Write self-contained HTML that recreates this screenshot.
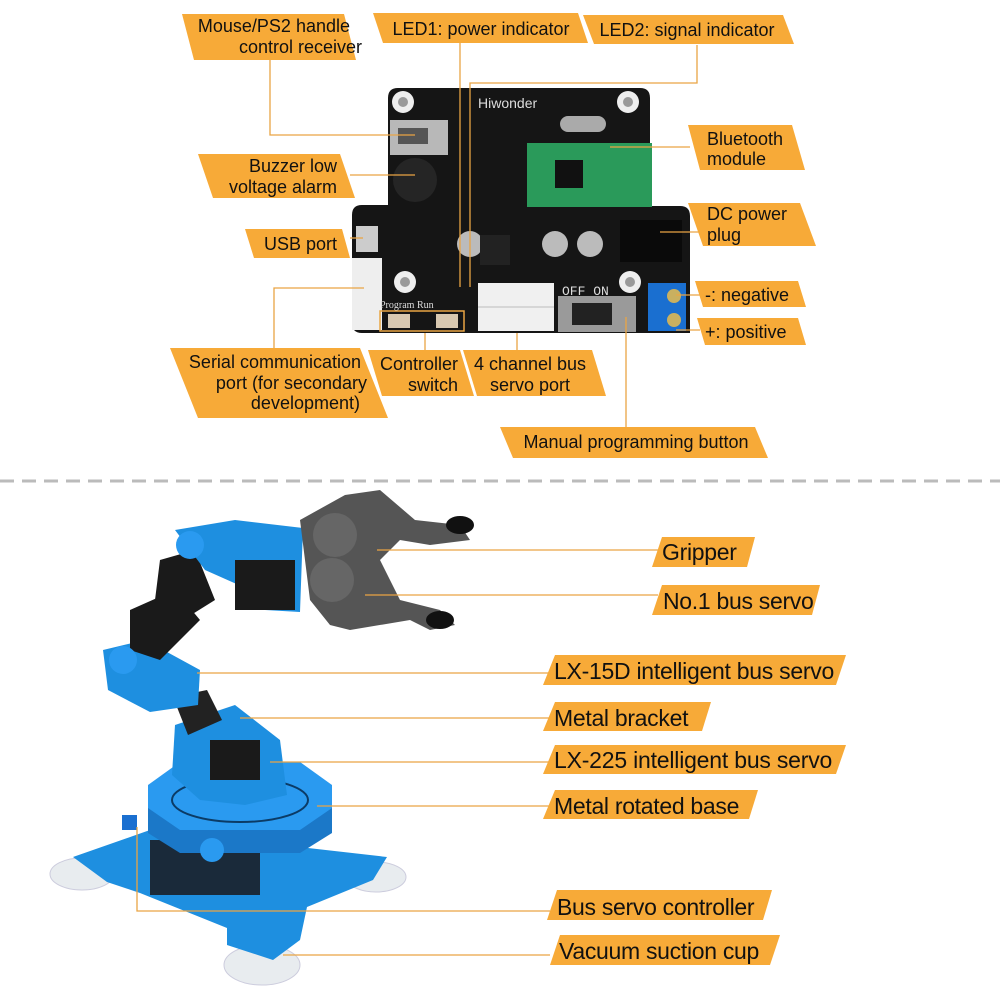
<!DOCTYPE html>
<html><head><meta charset="utf-8"><style>
html,body{margin:0;padding:0;background:#fff;}
svg{display:block;}
.t{font-family:"Liberation Sans Narrow","Liberation Sans",sans-serif;font-size:18px;fill:#111;}
.b{font-family:"Liberation Sans",sans-serif;font-size:23px;fill:#111;letter-spacing:-0.3px;}
.lb{fill:#f7aa38;}
.ln{stroke:#e9a544;stroke-width:1.3;fill:none;}
</style></head><body>
<svg width="1000" height="1000" viewBox="0 0 1000 1000" xmlns="http://www.w3.org/2000/svg">
<!-- board -->
<path d="M398,88 L640,88 Q650,88 650,98 L650,206 L680,206 Q690,206 690,216 L690,333 L362,333 Q352,333 352,323 L352,215 Q352,205 362,205 L388,205 L388,98 Q388,88 398,88 Z" fill="#151515"/>
<text x="478" y="108" font-family="Liberation Sans" font-size="14" fill="#ddd">Hiwonder</text>
<circle cx="403" cy="102" r="11" fill="#eee"/><circle cx="403" cy="102" r="5" fill="#999"/>
<circle cx="628" cy="102" r="11" fill="#eee"/><circle cx="628" cy="102" r="5" fill="#999"/>
<circle cx="405" cy="282" r="11" fill="#eee"/><circle cx="405" cy="282" r="5" fill="#999"/>
<circle cx="630" cy="282" r="11" fill="#eee"/><circle cx="630" cy="282" r="5" fill="#999"/>
<rect x="390" y="120" width="58" height="35" fill="#b8b8b8"/><rect x="398" y="128" width="30" height="16" fill="#555"/>
<circle cx="415" cy="180" r="22" fill="#252525"/>
<rect x="560" y="116" width="46" height="16" rx="8" fill="#aaa"/>
<rect x="527" y="143" width="125" height="64" fill="#2a9a5a"/><rect x="555" y="160" width="28" height="28" fill="#111"/>
<rect x="356" y="226" width="22" height="26" fill="#ccc"/>
<rect x="352" y="258" width="30" height="72" fill="#eee"/>
<rect x="620" y="220" width="62" height="42" fill="#0a0a0a"/>
<circle cx="470" cy="244" r="13" fill="#bbb"/><circle cx="555" cy="244" r="13" fill="#bbb"/><circle cx="590" cy="244" r="13" fill="#bbb"/>
<rect x="480" y="235" width="30" height="30" fill="#222"/>
<rect x="478" y="283" width="76" height="48" fill="#f0f0f0"/><line x1="478" y1="307" x2="554" y2="307" stroke="#bbb"/>
<rect x="558" y="296" width="78" height="36" fill="#9a9a9a"/><rect x="572" y="303" width="40" height="22" fill="#222"/>
<text x="562" y="295" font-family="Liberation Mono" font-size="13" fill="#ddd">OFF ON</text>
<rect x="648" y="283" width="38" height="48" fill="#1a6fd0"/>
<circle cx="674" cy="296" r="7" fill="#c9b060"/><circle cx="674" cy="320" r="7" fill="#c9b060"/>
<rect x="380" y="311" width="84" height="20" fill="none" stroke="#e9a544" stroke-width="1.5"/>
<rect x="388" y="314" width="22" height="14" fill="#d8c8b0"/><rect x="436" y="314" width="22" height="14" fill="#d8c8b0"/>
<text x="380" y="308" font-family="Liberation Serif" font-size="10" fill="#ddd">Program  Run</text>
<!-- top leader lines -->
<path class="ln" d="M270,60 V135 H415"/>
<path class="ln" d="M460,43 V287"/>
<path class="ln" d="M697,45 V83 H470 V287"/>
<path class="ln" d="M610,147 H690"/>
<path class="ln" d="M350,175 H415"/>
<path class="ln" d="M660,232 H705"/>
<path class="ln" d="M350,238 H363"/>
<path class="ln" d="M274,352 V288 H364"/>
<path class="ln" d="M425,333 V352"/>
<path class="ln" d="M517,333 V352"/>
<path class="ln" d="M626,317 V430"/>
<path class="ln" d="M676,295 H700"/>
<path class="ln" d="M676,330 H700"/>
<!-- top labels -->
<polygon class="lb" points="182,14 344,14 356,60 194,60"/>
<text class="t" x="350" y="32" text-anchor="end">Mouse/PS2 handle</text>
<text class="t" x="362" y="53" text-anchor="end">control receiver</text>
<polygon class="lb" points="373,13 578,13 588,43 383,43"/>
<text class="t" x="481" y="35" text-anchor="middle">LED1: power indicator</text>
<polygon class="lb" points="583,15 783,15 794,44 594,44"/>
<text class="t" x="687" y="36" text-anchor="middle">LED2: signal indicator</text>
<polygon class="lb" points="688,125 792,125 805,170 700,170"/>
<text class="t" x="707" y="145">Bluetooth</text>
<text class="t" x="707" y="165">module</text>
<polygon class="lb" points="198,154 340,154 355,198 213,198"/>
<text class="t" x="337" y="172" text-anchor="end">Buzzer low</text>
<text class="t" x="337" y="193" text-anchor="end">voltage alarm</text>
<polygon class="lb" points="688,203 800,203 816,246 703,246"/>
<text class="t" x="707" y="220">DC power</text>
<text class="t" x="707" y="241">plug</text>
<polygon class="lb" points="245,229 342,229 350,258 254,258"/>
<text class="t" x="337" y="250" text-anchor="end">USB port</text>
<polygon class="lb" points="695,281 798,281 806,307 703,307"/>
<text class="t" x="705" y="301">-: negative</text>
<polygon class="lb" points="697,318 798,318 806,345 705,345"/>
<text class="t" x="705" y="338">+: positive</text>
<polygon class="lb" points="170,348 360,348 388,418 198,418"/>
<text class="t" x="361" y="368" text-anchor="end">Serial communication</text>
<text class="t" x="367" y="389" text-anchor="end">port (for secondary</text>
<text class="t" x="360" y="409" text-anchor="end">development)</text>
<polygon class="lb" points="368,350 460,350 474,396 382,396"/>
<text class="t" x="458" y="370" text-anchor="end">Controller</text>
<text class="t" x="458" y="391" text-anchor="end">switch</text>
<polygon class="lb" points="463,350 592,350 606,396 477,396"/>
<text class="t" x="530" y="370" text-anchor="middle">4 channel bus</text>
<text class="t" x="530" y="391" text-anchor="middle">servo port</text>
<polygon class="lb" points="500,427 755,427 768,458 513,458"/>
<text class="t" x="636" y="448" text-anchor="middle">Manual programming button</text>
<!-- dashed divider -->
<line x1="0" y1="481" x2="1000" y2="481" stroke="#bbb" stroke-width="3" stroke-dasharray="14,8"/>
<!-- robot -->
<ellipse cx="82" cy="874" rx="32" ry="16" fill="#e8ecef" stroke="#ccd" />
<ellipse cx="376" cy="877" rx="30" ry="15" fill="#e8ecef" stroke="#ccd"/>
<ellipse cx="262" cy="965" rx="38" ry="20" fill="#e8ecef" stroke="#ccd"/>
<polygon points="73,857 150,830 387,857 373,880 307,907 300,940 273,960 227,945 227,928 140,893 107,882" fill="#1e8fe0"/>
<rect x="150" y="840" width="110" height="55" fill="#1a2a3a"/>
<polygon points="148,790 180,770 300,770 332,790 332,833 300,853 180,853 148,833" fill="#1b78c8"/>
<polygon points="148,785 180,762 300,762 332,785 332,808 300,830 180,830 148,808" fill="#2a9af0"/>
<ellipse cx="240" cy="800" rx="68" ry="22" fill="none" stroke="#0b3b66" stroke-width="2"/>
<rect x="122" y="815" width="15" height="15" fill="#1a6fd0"/>
<polygon points="175,725 235,705 280,740 287,795 245,805 200,800 172,775" fill="#1e8fe0"/>
<rect x="210" y="740" width="50" height="40" fill="#1a1a1a"/>
<polygon points="173,697 207,690 222,720 188,735" fill="#222"/>
<polygon points="103,650 145,640 200,670 198,705 150,712 108,690" fill="#1e8fe0"/>
<polygon points="130,610 175,590 200,620 160,660 130,650" fill="#1a1a1a"/>
<polygon points="160,560 195,550 215,600 175,625 155,600" fill="#1a1a1a"/>
<polygon points="175,530 235,520 303,528 300,612 265,610 250,590 205,570" fill="#1e8fe0"/>
<rect x="235" y="560" width="60" height="50" fill="#1a1a1a"/>
<circle cx="190" cy="545" r="14" fill="#2a9af0"/>
<circle cx="123" cy="660" r="14" fill="#2a9af0"/>
<circle cx="212" cy="850" r="12" fill="#2a9af0"/>
<polygon points="300,520 345,495 380,490 415,520 460,525 470,540 430,545 400,540 380,560 400,600 440,610 455,625 430,630 410,620 350,630 330,625 310,600 305,560" fill="#555"/>
<circle cx="335" cy="535" r="22" fill="#666"/><circle cx="332" cy="580" r="22" fill="#666"/>
<ellipse cx="460" cy="525" rx="14" ry="9" fill="#111"/><ellipse cx="440" cy="620" rx="14" ry="9" fill="#111"/>
<!-- bottom leader lines -->
<path class="ln" d="M377,550 H658"/>
<path class="ln" d="M365,595 H658"/>
<path class="ln" d="M197,673 H550"/>
<path class="ln" d="M240,718 H550"/>
<path class="ln" d="M270,762 H550"/>
<path class="ln" d="M317,806 H550"/>
<path class="ln" d="M137,827 V911 H550"/>
<path class="ln" d="M283,955 H550"/>
<!-- bottom labels -->
<polygon class="lb" points="662,537 755,537 747,567 652,567"/>
<text class="b" x="662" y="560">Gripper</text>
<polygon class="lb" points="662,585 820,585 812,615 652,615"/>
<text class="b" x="663" y="609">No.1 bus servo</text>
<polygon class="lb" points="555,655 846,655 836,685 543,685"/>
<text class="b" x="554" y="679" textLength="280">LX-15D intelligent bus servo</text>
<polygon class="lb" points="555,702 711,702 702,731 543,731"/>
<text class="b" x="554" y="726">Metal bracket</text>
<polygon class="lb" points="555,745 846,745 836,774 543,774"/>
<text class="b" x="554" y="768" textLength="278">LX-225 intelligent bus servo</text>
<polygon class="lb" points="555,790 758,790 749,819 543,819"/>
<text class="b" x="554" y="814">Metal rotated base</text>
<polygon class="lb" points="557,890 772,890 763,920 547,920"/>
<text class="b" x="557" y="915">Bus servo controller</text>
<polygon class="lb" points="560,935 780,935 770,965 550,965"/>
<text class="b" x="559" y="959">Vacuum suction cup</text>
</svg>
</body></html>
